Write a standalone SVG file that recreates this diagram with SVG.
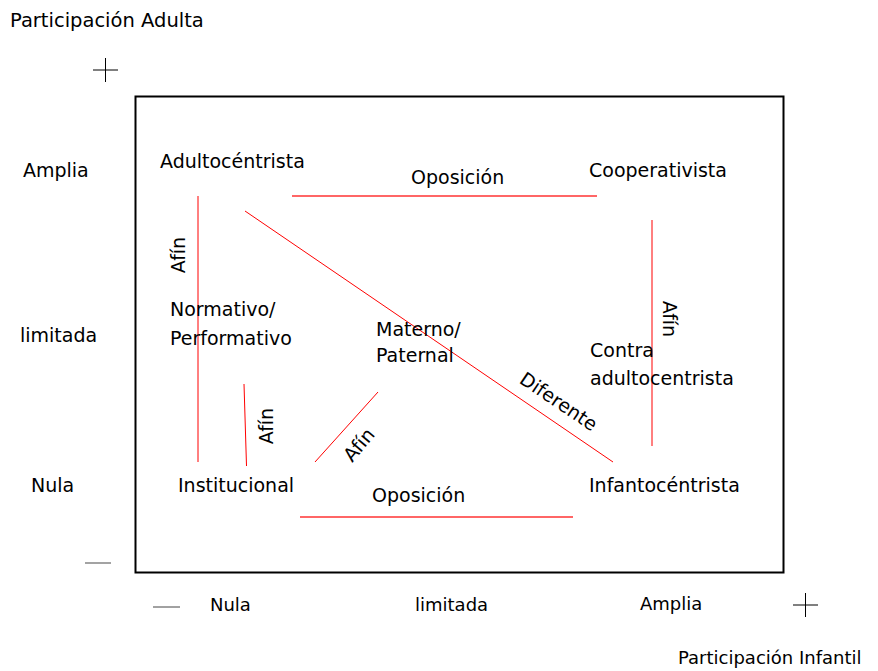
<svg xmlns="http://www.w3.org/2000/svg" width="878" height="671" viewBox="0 0 878 671">
<style>
text{font-family:"DejaVu Sans","Liberation Sans",sans-serif;font-size:19px;fill:#000}
.s{font-size:18px}
.ax{stroke:#000;stroke-width:1;fill:none}
.r{stroke:#f00;stroke-width:1;fill:none}
.rl{stroke:#f66;stroke-width:2;fill:none}
</style>
<rect width="878" height="671" fill="#fff"/>
<g id="axes">
<text x="10" y="27" style="font-size:19.5px">Participación Adulta</text>
<path class="ax" d="M93 70H118M105.5 58V82" stroke="#555"/>
<rect x="135.5" y="96.5" width="648" height="476" fill="none" stroke="#000" stroke-width="2"/>
<text x="23" y="177">Amplia</text>
<text x="20" y="342">limitada</text>
<text x="31" y="492">Nula</text>
<path d="M85 563H111" stroke="#666" stroke-width="1.2"/>
<path d="M153 607H180" stroke="#444" stroke-width="1"/>
<text class="s" x="210" y="611">Nula</text>
<text class="s" x="415" y="611">limitada</text>
<text class="s" x="640" y="610">Amplia</text>
<path class="ax" d="M793 605H818M805.5 593V617" stroke="#555"/>
<text class="s" x="678" y="664">Participación Infantil</text>
</g>
<g id="connectors">
<line class="rl" x1="292" y1="196" x2="597" y2="196"/>
<line class="r" x1="198" y1="196" x2="198" y2="462"/>
<line class="r" x1="245" y1="211" x2="613" y2="462"/>
<line class="r" x1="652" y1="220" x2="652" y2="446"/>
<line class="r" x1="244" y1="384" x2="246.5" y2="466"/>
<line class="r" x1="315" y1="462" x2="378" y2="392"/>
<line class="rl" x1="300" y1="517" x2="573" y2="517"/>
<text x="411" y="184">Oposición</text>
<text x="372" y="502">Oposición</text>
<text x="185" y="255" text-anchor="middle" transform="rotate(-90 185 255)">Afín</text>
<text x="273" y="426" text-anchor="middle" transform="rotate(-90 273 426)">Afín</text>
<text x="663" y="319" text-anchor="middle" transform="rotate(90 663 319)">Afín</text>
<text x="364" y="449" text-anchor="middle" transform="rotate(-50 364 449)">Afín</text>
<text x="555" y="407" text-anchor="middle" transform="rotate(34 555 407)">Diferente</text>
</g>
<g id="adultocentrista"><text x="160" y="168">Adultocéntrista</text></g>
<g id="cooperativista"><text x="589" y="177">Cooperativista</text></g>
<g id="normativo"><text x="170" y="316">Normativo/</text><text x="170" y="345">Performativo</text></g>
<g id="materno"><text x="376" y="336">Materno/</text><text x="376" y="362">Paternal</text></g>
<g id="contra"><text x="590" y="357">Contra</text><text x="590" y="385">adultocentrista</text></g>
<g id="institucional"><text x="178" y="492">Institucional</text></g>
<g id="infantocentrista"><text x="589" y="492">Infantocéntrista</text></g>
</svg>
